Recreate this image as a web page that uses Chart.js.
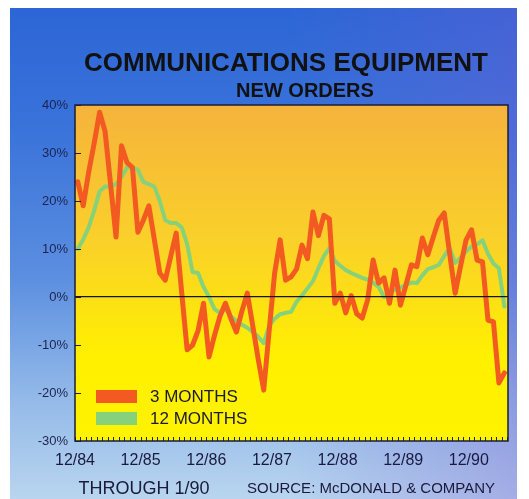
<!DOCTYPE html>
<html>
<head>
<meta charset="utf-8">
<script src="https://cdn.jsdelivr.net/npm/chart.js@4.4.1/dist/chart.umd.min.js"></script>
<style>
  html, body { margin: 0; padding: 0; background: #fff; width: 529px; height: 499px; overflow: hidden;
    font-family: "Liberation Sans", Arial, sans-serif; }
  #panel { position: absolute; left: 10px; top: 8px; width: 507px; height: 491px;
    background:
      linear-gradient(90deg, rgba(120, 90, 210, 0) 55%, rgba(120, 90, 210, 0.32) 100%),
      linear-gradient(180deg, #2c66d6 0%, #3a73da 25%, #5c8fe0 55%, #94bae8 80%, #b9d5ef 100%); }
  #chart { position: absolute; left: 0; top: 0; }
  .t { position: absolute; white-space: nowrap; transform: translateX(-50%); line-height: 1; color: #111; }
</style>
</head>
<body>
<div id="panel"></div>
<canvas id="chart" width="529" height="499"></canvas>
<div class="t" style="left:286px;top:49px;font-size:26px;font-weight:bold;">COMMUNICATIONS EQUIPMENT</div>
<div class="t" style="left:305px;top:80px;font-size:20px;font-weight:bold;">NEW ORDERS</div>
<div class="t" style="left:144px;top:479px;font-size:18px;color:#1a1a3a;">THROUGH 1/90</div>
<div class="t" style="left:371px;top:480px;font-size:15px;color:#1a1a3a;">SOURCE: McDONALD &amp; COMPANY</div>
<script>
// Monthly categories, January 1985 onward
const months = [];
for (let y = 85; y <= 91; y++) {
  for (let m = 1; m <= 12; m++) {
    if (months.length < 79) months.push(m + '/' + y);
  }
}

// Year-end labels shown under the axis
const yearTicks = ['12/84', '12/85', '12/86', '12/87', '12/88', '12/89', '12/90'];

// Percent change in new orders, 3-month basis
const threeMonth = [
  24, 19, 26, 32, 38.5, 34.5, 23.5, 12.5, 31.5, 28, 27, 13.5,
  16, 19, 12, 5, 3.5, 8.5, 13.3, 1, -11, -10, -7, -1.3,
  -12.5, -8, -4, -1.3, -4.5, -7.3, -3, 0.8, -6, -13, -19.4, -7,
  5, 11.9, 3.5, 4.2, 5.8, 10.8, 8, 17.7, 12.8, 17, 16.3, -1.3,
  0.8, -3.3, 0.3, -3.5, -4.4, -0.6, 7.7, 2.9, 4, -1.3, 5.6, -1.7,
  2.5, 6.7, 6.3, 12.3, 8.8, 12.5, 16, 17.5, 9, 0.8, 6.5, 11.9,
  14, 7.7, 7.3, -4.8, -5.2, -17.9, -15.8
];

// Percent change in new orders, 12-month basis
const twelveMonth = [
  10, 12, 14.5, 18, 22, 23, 23, 23.5, 25, 27, 27, 26.5,
  24, 23.5, 23, 20, 16, 15.4, 15.4, 14.5, 11, 5.2, 5, 2.1,
  0, -2.5, -3.3, -2.5, -4, -5, -5.8, -6.4, -7.3, -8.3, -9.6, -6,
  -4.5, -3.6, -3.3, -3.1, -1, 0.3, 1.8, 3.3, 6, 8.5, 10.2, 7.5,
  6.5, 5.6, 5, 4.5, 4, 3.6, 3, 2.1, 0, 1, 1.5, 2,
  2.5, 3, 2.9, 4.5, 5.8, 6.2, 6.7, 8.5, 10.2, 7.1, 8.2, 9.5,
  10.5, 11, 11.8, 9, 7, 6, -2
];

const FONT = '"Liberation Sans", Arial, sans-serif';
Chart.defaults.font.family = FONT;

const toPoints = arr => arr.map((v, i) => ({ x: i, y: v }));

// Plot background, frame, inward tick marks and legend
const framePlugin = {
  id: 'frame',
  beforeDraw(chart) {
    const { ctx, chartArea: a } = chart;
    const g = ctx.createLinearGradient(0, a.top, 0, a.bottom);
    g.addColorStop(0, '#f5b33c');
    g.addColorStop(0.4, '#fad02a');
    g.addColorStop(0.75, '#fff000');
    g.addColorStop(1, '#fff300');
    ctx.save();
    ctx.fillStyle = g;
    ctx.fillRect(a.left, a.top, a.right - a.left, a.bottom - a.top);
    ctx.restore();
  },
  afterDraw(chart) {
    const { ctx, chartArea: a } = chart;
    const xs = chart.scales.x, ys = chart.scales.y;
    ctx.save();
    ctx.strokeStyle = '#1d2240';
    ctx.lineWidth = 1;
    ctx.beginPath();
    xs.ticks.forEach(t => {
      const px = Math.round(xs.getPixelForValue(t.value)) + 0.5;
      if (px < a.left || px > a.right) return;
      ctx.moveTo(px, a.bottom);
      ctx.lineTo(px, a.bottom - 4);
    });
    ys.ticks.forEach(t => {
      const py = Math.round(ys.getPixelForValue(t.value)) + 0.5;
      ctx.moveTo(a.left, py);
      ctx.lineTo(a.left + 6, py);
    });
    ctx.stroke();
    ctx.lineWidth = 1.5;
    ctx.strokeStyle = '#1a1e3a';
    ctx.strokeRect(a.left, a.top, a.right - a.left, a.bottom - a.top);

    // legend, bottom-left inside the plot
    ctx.font = '17px ' + FONT;
    ctx.textBaseline = 'middle';
    ctx.textAlign = 'left';
    chart.data.datasets.forEach((ds, i) => {
      const y = a.bottom - 51 + i * 22;
      ctx.fillStyle = ds.borderColor;
      ctx.fillRect(a.left + 21, y, 41, 13);
      ctx.fillStyle = '#1a1a30';
      ctx.fillText(ds.label, a.left + 75, y + 7);
    });
    ctx.restore();
  }
};

new Chart(document.getElementById('chart'), {
  type: 'line',
  data: {
    datasets: [
      {
        label: '3 MONTHS',
        data: toPoints(threeMonth),
        borderColor: '#f25a22',
        borderWidth: 5,
        pointRadius: 0,
        tension: 0,
        borderJoinStyle: 'round',
        borderCapStyle: 'round'
      },
      {
        label: '12 MONTHS',
        data: toPoints(twelveMonth),
        borderColor: '#86d27a',
        borderWidth: 4,
        pointRadius: 0,
        tension: 0,
        borderJoinStyle: 'round',
        borderCapStyle: 'round'
      }
    ]
  },
  options: {
    responsive: false,
    animation: false,
    layout: { padding: { top: 105, right: 21, bottom: 28, left: 0 } },
    plugins: { legend: { display: false }, tooltip: { enabled: false }, title: { display: false } },
    scales: {
      x: {
        type: 'linear',
        min: -0.5,
        max: 78.66,
        afterBuildTicks: scale => {
          const ticks = [];
          for (let k = 0; k <= months.length; k++) ticks.push({ value: k - 0.5 });
          scale.ticks = ticks;
        },
        afterFit: scale => { scale.height = 30; },
        grid: { display: false, drawTicks: false },
        border: { display: false },
        ticks: {
          autoSkip: false,
          maxRotation: 0,
          padding: 10,
          color: '#1a1a40',
          font: { size: 16 },
          callback: (value, index) => (index % 12 === 0 ? yearTicks[index / 12] : '')
        }
      },
      y: {
        min: -30,
        max: 40,
        afterFit: scale => { scale.width = 75; },
        grid: {
          z: 1,
          drawTicks: false,
          lineWidth: 1.3,
          color: c => (c.tick && c.tick.value === 0 ? '#141414' : 'rgba(0,0,0,0)')
        },
        border: { display: false },
        ticks: {
          stepSize: 10,
          padding: 7,
          color: '#1c2450',
          font: { size: 13 },
          callback: v => v + '%'
        }
      }
    }
  },
  plugins: [framePlugin]
});
</script>
</body>
</html>
